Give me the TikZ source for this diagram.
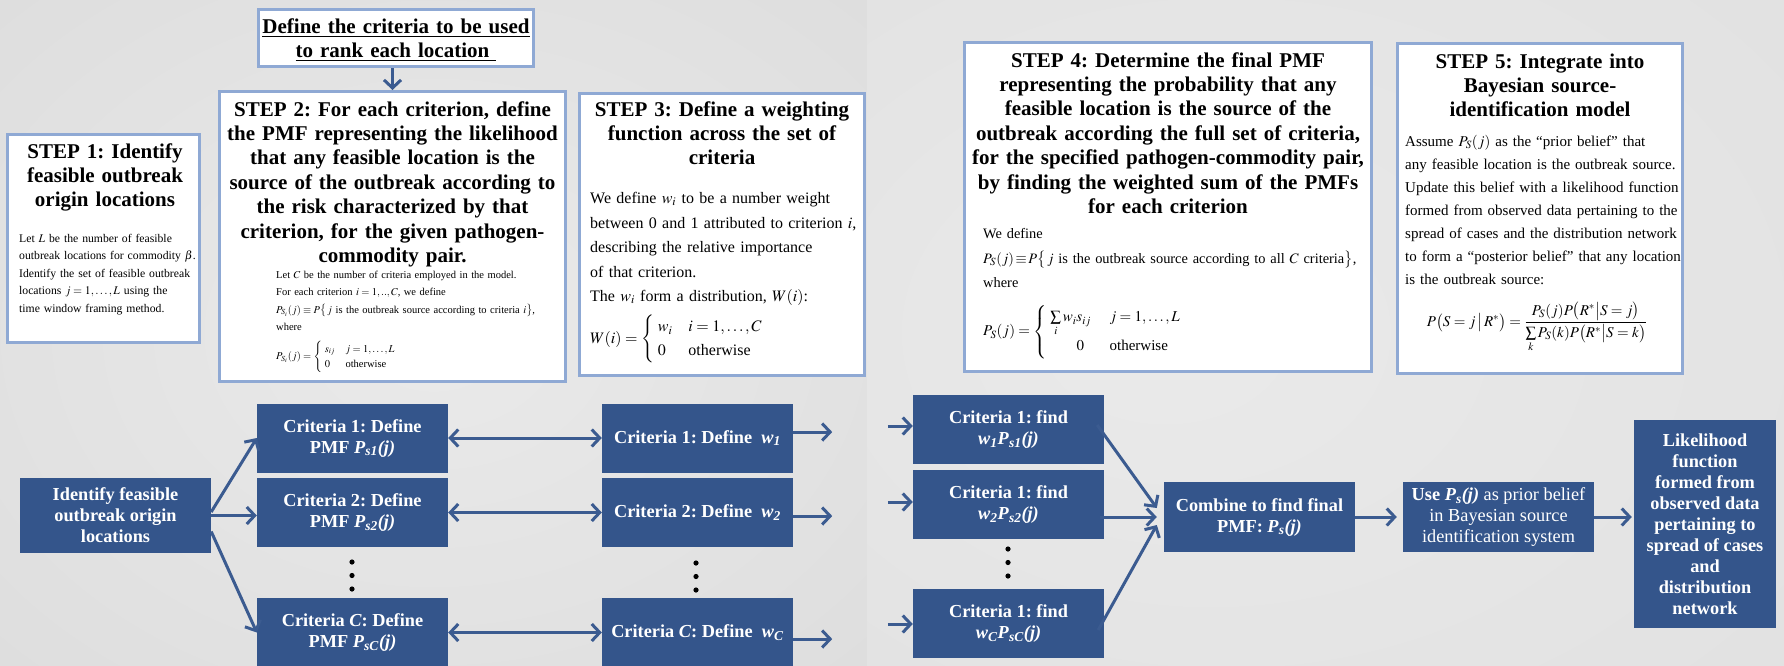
\documentclass[tikz,border=0pt]{standalone}
\usepackage{amsmath}
\usepackage{mathptmx}
\usepackage[no-math]{fontspec}
\setmainfont{Liberation Serif}
\usetikzlibrary{arrows.meta,calc}

\definecolor{boxblue}{HTML}{34558B}
\definecolor{arrowblue}{HTML}{3B5B90}
\definecolor{edgeblue}{HTML}{8FA9D4}
\definecolor{bgin}{HTML}{EAEAEA}
\definecolor{bgout}{HTML}{D9D9D9}
\definecolor{bgoutb}{HTML}{DEDEDE}

\pgfdeclareradialshading{slideleft}{\pgfpoint{0bp}{0bp}}{color(0bp)=(bgin); color(50bp)=(bgout)}
\pgfdeclareradialshading{slideright}{\pgfpoint{-10bp}{0bp}}{color(0bp)=(bgin); color(55bp)=(bgoutb)}

\tikzset{
  stepframe/.style={draw=edgeblue, line width=3pt, fill=white, inner sep=0pt},
  steptitle/.style={font=\fontsize{21}{24.4}\selectfont\bfseries, align=center, inner sep=0pt, anchor=base},
  stepbody/.style={align=left, inner sep=0pt, anchor=base west},
  stepmath/.style={inner sep=0pt, anchor=west},
  flowbox/.style={fill=boxblue, text=white, inner sep=0pt, align=center,
    font=\fontsize{18.3}{21}\selectfont\bfseries},
  flowarrow/.style={draw=arrowblue, line width=3pt, -{Straight Barb[length=8pt,width=17pt]}},
  dualarrow/.style={draw=arrowblue, line width=3pt,
    {Straight Barb[length=8pt,width=17pt]}-{Straight Barb[length=8pt,width=17pt]}},
  dotmark/.style={fill=black}
}

\newcommand{\bi}[1]{\textbf{\textit{#1}}}
\frenchspacing

\begin{document}
\begin{tikzpicture}[x=1pt,y=-1pt]
\useasboundingbox (0,0) rectangle (1784,665);

% slide backgrounds
\path[shading=slideleft] (0,0) rectangle (867,665);
\path[shading=slideright] (867,0) rectangle (1784,665);

% ---------------- upper text panels ----------------
\node[stepframe, minimum width=275pt, minimum height=57pt] (def) at (396,38) {};
\node[steptitle, text width=270pt] (deftxt) at (396,33)
  {\underline{Define the criteria to be used}\\\underline{to rank each location\ }};

% STEP 1
\node[stepframe, minimum width=192pt, minimum height=208pt] (s1) at (103.5,238.5) {};
\node[steptitle, text width=185pt] (t1) at (105,158)
  {STEP 1: Identify\\feasible outbreak\\origin locations};
\node[stepbody, text width=180pt, font=\fontsize{11.7}{17.4}\selectfont] (b1) at (19,242.5)
  {Let $L$ be the number of feasible\\
   outbreak locations for commodity $\beta$.\\
   Identify the set of feasible outbreak\\
   locations $j=1,\ldots,L$ using the\\
   time window framing method.};

% STEP 2
\node[stepframe, minimum width=346pt, minimum height=290pt] (s2) at (392.5,236.5) {};
\node[steptitle, text width=340pt] (t2) at (392.5,116)
  {STEP 2: For each criterion, define\\
   the PMF representing the likelihood\\
   that any feasible location is the\\
   source of the outbreak according to\\
   the risk characterized by that\\
   criterion, for the given pathogen-\\
   commodity pair.};
\node[stepbody, text width=285pt, font=\fontsize{10.5}{17.3}\selectfont] (b2) at (276,278.5)
  {Let $C$ be the number of criteria employed in the model.\\
   For each criterion $i=1,..,C$, we define\\
   $P_{S_i}(j)\equiv P\bigl\{\,j\text{ is the outbreak source according to criteria }i\bigr\}$,\\
   where};
\node[stepmath, font=\fontsize{10.5}{13}\selectfont] (f2) at (276,357)
  {$P_{S_i}(j)=\begin{cases}\ s_{ij} & j=1,\ldots,L\\ \ 0 & \text{otherwise}\end{cases}$};

% STEP 3
\node[stepframe, minimum width=285pt, minimum height=282pt] (s3) at (722,234.5) {};
\node[steptitle, text width=280pt] (t3) at (722,116)
  {STEP 3: Define a weighting\\function across the set of\\criteria};
\node[stepbody, text width=272pt, font=\fontsize{16}{24.5}\selectfont] (b3) at (590,203.5)
  {We define $w_i$ to be a number weight\\
   between 0 and 1 attributed to criterion $i$,\\
   describing the relative importance\\
   of that criterion.\\
   The $w_i$ form a distribution, $W(i)$:};
\node[stepmath, font=\fontsize{16}{20}\selectfont] (f3) at (590,339)
  {$W(i)=\begin{cases}\ w_i & i=1,\ldots,C\\ \ 0 & \text{otherwise}\end{cases}$};

% STEP 4
\node[stepframe, minimum width=407pt, minimum height=329pt] (s4) at (1168,207) {};
\node[steptitle, text width=400pt] (t4) at (1168,67)
  {STEP 4: Determine the final PMF\\
   representing the probability that any\\
   feasible location is the source of the\\
   outbreak according the full set of criteria,\\
   for the specified pathogen-commodity pair,\\
   by finding the weighted sum of the PMFs\\
   for each criterion};
\node[stepbody, text width=380pt, font=\fontsize{14.4}{24.5}\selectfont] (b4) at (983,238.5)
  {We define\\
   $P_S(j)\!\equiv\! P\bigl\{\,j\text{ is the outbreak source according to all }C\text{ criteria}\bigr\}$,\\
   where};
\node[stepmath, font=\fontsize{15}{18}\selectfont] (f4) at (983,332)
  {$P_S(j)=\begin{cases}\ \sum\limits_i w_i s_{ij} & \ j=1,\ldots,L\\[6pt] \qquad 0 & \ \text{otherwise}\end{cases}$};

% STEP 5
\node[stepframe, minimum width=285pt, minimum height=330pt] (s5) at (1540,208.5) {};
\node[steptitle, text width=280pt] (t5) at (1540,68)
  {STEP 5: Integrate into\\Bayesian source-\\identification model};
\node[stepbody, text width=295pt, font=\fontsize{15}{23}\selectfont] (b5) at (1405,146.5)
  {Assume $P_S(j)$ as the “prior belief” that\\
   any feasible location is the outbreak source.\\
   Update this belief with a likelihood function\\
   formed from observed data pertaining to the\\
   spread of cases and the distribution network\\
   to form a “posterior belief” that any location\\
   is the outbreak source:};
\node[inner sep=0pt, font=\fontsize{15}{18}\selectfont] (f5) at (1537,327)
  {$P\bigl(S=j\,\big|\,R^*\bigr)=\dfrac{P_S(j)P\bigl(R^*\big|S=j\bigr)}{\sum\limits_k P_S(k)P\bigl(R^*\big|S=k\bigr)}$};

\draw[flowarrow] (def.south -| s2.north) -- (s2.north);

% ---------------- lower flow ----------------
\node[flowbox, minimum width=191pt, minimum height=75pt] (idf) at (115.5,515.5)
  {Identify feasible\\outbreak origin\\locations};

\node[flowbox, minimum width=191pt, minimum height=69pt] (pmf1) at (352.5,438)
  {Criteria 1: Define\\PMF \bi{P}\textsubscript{\bi{s1}}\bi{(j)}};
\node[flowbox, minimum width=191pt, minimum height=69pt] (pmf2) at (352.5,512.5)
  {Criteria 2: Define\\PMF \bi{P}\textsubscript{\bi{s2}}\bi{(j)}};
\node[flowbox, minimum width=191pt, minimum height=69pt] (pmfC) at (352.5,632.5)
  {Criteria \textit{C}: Define\\PMF \bi{P}\textsubscript{\bi{sC}}\bi{(j)}};

\node[flowbox, minimum width=191pt, minimum height=69pt] (wt1) at (697.5,438)
  {Criteria 1: Define\ \ \bi{w}\textsubscript{\bi{1}}};
\node[flowbox, minimum width=191pt, minimum height=69pt] (wt2) at (697.5,512.5)
  {Criteria 2: Define\ \ \bi{w}\textsubscript{\bi{2}}};
\node[flowbox, minimum width=191pt, minimum height=69pt] (wtC) at (697.5,632.5)
  {Criteria \textit{C}: Define\ \ \bi{w}\textsubscript{\bi{C}}};

\node[flowbox, minimum width=191pt, minimum height=69pt] (find1) at (1008.5,429.5)
  {Criteria 1: find\\\bi{w}\textsubscript{\bi{1}}\bi{P}\textsubscript{\bi{s1}}\bi{(j)}};
\node[flowbox, minimum width=191pt, minimum height=69pt] (find2) at (1008.5,504.5)
  {Criteria 1: find\\\bi{w}\textsubscript{\bi{2}}\bi{P}\textsubscript{\bi{s2}}\bi{(j)}};
\node[flowbox, minimum width=191pt, minimum height=69pt] (findC) at (1008.5,623.5)
  {Criteria 1: find\\\bi{w}\textsubscript{\bi{C}}\bi{P}\textsubscript{\bi{sC}}\bi{(j)}};

\node[flowbox, minimum width=191pt, minimum height=70pt] (comb) at (1259.5,517)
  {Combine to find final\\PMF: \bi{P}\textsubscript{\bi{s}}\bi{(j)}};
\node[flowbox, minimum width=191pt, minimum height=70pt, font=\fontsize{18.3}{21}\selectfont] (use) at (1498.5,517)
  {\textbf{Use} \bi{P}\textsubscript{\bi{s}}\bi{(j)} as prior belief\\in Bayesian source\\identification system};
\node[flowbox, minimum width=142pt, minimum height=208pt] (lik) at (1705,524)
  {Likelihood\\function\\formed from\\observed data\\pertaining to\\spread of cases\\and\\distribution\\network};

% vertical ellipses between the rows
\foreach \y in {562,575.5,589} \fill[dotmark] (352,\y) circle (2.6);
\foreach \y in {563,576.5,590} \fill[dotmark] (696,\y) circle (2.6);
\foreach \y in {549,562.5,576} \fill[dotmark] (1008,\y) circle (2.6);

% fan-out from the feasible locations
\draw[flowarrow] ($(idf.east)+(0,-3.5)$) -- (pmf1.west);
\draw[flowarrow] (idf.east) -- (idf.east -| pmf2.west);
\draw[flowarrow] ($(idf.east)+(0,16)$) -- (pmfC.west);

% PMF <-> weight links
\draw[dualarrow] (pmf1.east) -- (wt1.west);
\draw[dualarrow] (pmf2.east) -- (wt2.west);
\draw[dualarrow] (pmfC.east) -- (wtC.west);

% outgoing stubs of the weight column
\coordinate (o1) at ($(wt1.east)+(39,-6)$);
\coordinate (o2) at ($(wt2.east)+(39,3.5)$);
\coordinate (oC) at ($(wtC.east)+(39,6.5)$);
\draw[flowarrow] (o1 -| wt1.east) -- (o1);
\draw[flowarrow] (o2 -| wt2.east) -- (o2);
\draw[flowarrow] (oC -| wtC.east) -- (oC);

% incoming stubs of the weighted column
\coordinate (i1) at ($(find1.west)+(-25,-3.5)$);
\coordinate (i2) at ($(find2.west)+(-25,-2.5)$);
\coordinate (iC) at ($(findC.west)+(-25,0.5)$);
\draw[flowarrow] (i1) -- (i1 -| find1.west);
\draw[flowarrow] (i2) -- (i2 -| find2.west);
\draw[flowarrow] (iC) -- (iC -| findC.west);

% fan-in to the combined PMF
\draw[flowarrow] ($(find1.east)+(-7,-4.5)$) -- ($(comb.west)+(-7,-9)$);
\draw[flowarrow] ($(find2.east |- comb.west)+(-4,0)$) -- ($(comb.west)+(-7,0)$);
\draw[flowarrow] ($(findC.east)+(-6,6.5)$) -- ($(comb.west)+(-7,8)$);

\draw[flowarrow, shorten >=6pt] (comb.east) -- (use.west);
\draw[flowarrow, shorten >=2pt] (use.east) -- (use.east -| lik.west);
\end{tikzpicture}
\end{document}
